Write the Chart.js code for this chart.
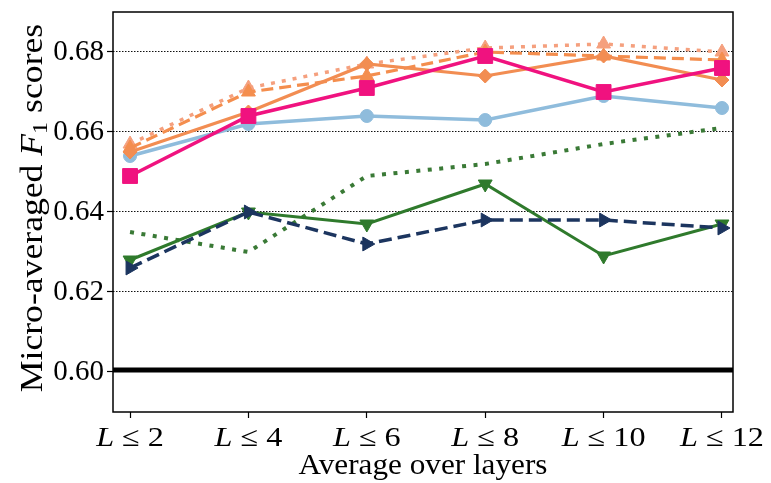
<!DOCTYPE html>
<html>
<head>
<meta charset="utf-8">
<script src="https://cdn.jsdelivr.net/npm/chart.js@4"></script>
<style>
  html, body { margin: 0; padding: 0; background: #fff; }
  canvas { display: block; }
</style>
</head>
<body>
<canvas id="chart" width="771" height="483"></canvas>
<script>
// Layer depths the scores are averaged over (x axis categories)
const layerLimits = [2, 4, 6, 8, 10, 12];
const yTicks = [0.60, 0.62, 0.64, 0.66, 0.68];

// Micro-averaged F1 per configuration
const blueCircles    = [0.654, 0.662, 0.664, 0.663, 0.669, 0.666];
const pinkSquares    = [0.649, 0.664, 0.671, 0.679, 0.670, 0.676];
const orangeDiamonds = [0.655, 0.665, 0.677, 0.674, 0.679, 0.673];
const orangeDashed   = [0.656, 0.670, 0.674, 0.680, 0.679, 0.678];
const orangeDotted   = [0.657, 0.671, 0.677, 0.681, 0.682, 0.680];
const greenSolid     = [0.628, 0.640, 0.637, 0.647, 0.629, 0.637];
const greenDotted    = [0.635, 0.630, 0.649, 0.652, 0.657, 0.661];
const navyDashed     = [0.626, 0.640, 0.632, 0.638, 0.638, 0.636];
const baselineScore  = 0.6005;

const SERIF = '"Liberation Serif", "DejaVu Serif", serif';
const X_MIN = -0.144, X_MAX = 5.093;

const pts = arr => arr.map((v, i) => ({ x: i, y: v }));

function lineSet(values, color, opts) {
  return Object.assign({
    data: pts(values),
    borderColor: color,
    backgroundColor: color,
    pointBackgroundColor: color,
    pointBorderColor: color,
    pointBorderWidth: 1,
    borderWidth: 3,
    tension: 0,
    pointRadius: 6,
    pointStyle: 'circle'
  }, opts);
}

// Datasets listed top-most first (index 0 is painted last)
const datasets = [
  lineSet(pinkSquares, '#f0127f', { pointStyle: 'rect', pointRadius: 10.5, borderWidth: 3.5 }),
  lineSet(navyDashed, '#1c355f', { borderDash: [13, 6], borderWidth: 3.5, pointStyle: 'triangle', rotation: 90, pointRadius: 8 }),
  lineSet(greenSolid, '#2f7a2c', { pointStyle: 'triangle', rotation: 180, pointRadius: 8 }),
  lineSet(orangeDiamonds, '#f28d52', { pointStyle: 'rectRot', pointRadius: 7, borderWidth: 3.2 }),
  lineSet(orangeDashed, '#f48e4e', { borderDash: [12, 6], borderWidth: 3.2, pointStyle: 'triangle', pointRadius: 8 }),
  lineSet(orangeDotted, '#f5a07e', { borderDash: [4, 7], borderWidth: 3.5, pointStyle: 'triangle', pointRadius: 8 }),
  lineSet(blueCircles, '#8fbcdc', { pointStyle: 'circle', pointRadius: 6.5, borderWidth: 3.5 }),
  lineSet(greenDotted, '#3a7a36', { borderDash: [4, 7.5], borderWidth: 4, pointRadius: 0 }),
  {
    data: [{ x: X_MIN, y: baselineScore }, { x: X_MAX, y: baselineScore }],
    borderColor: '#000',
    borderWidth: 5,
    pointRadius: 0
  }
];

// Draw text runs of mixed styles on one baseline, centred on x,
// optionally stretched horizontally by sx
function drawRuns(ctx, runs, x, y, sx) {
  sx = sx || 1;
  let total = 0;
  runs.forEach(r => { ctx.font = r.font; r.w = ctx.measureText(r.text).width; total += r.w; });
  ctx.save();
  ctx.translate(x, y);
  ctx.scale(sx, 1);
  let cx = -total / 2;
  runs.forEach(r => {
    ctx.font = r.font;
    ctx.fillText(r.text, cx, r.dy || 0);
    cx += r.w;
  });
  ctx.restore();
}

const decorations = {
  id: 'decorations',
  beforeDraw(chart) {
    const ctx = chart.ctx;
    ctx.save();
    ctx.fillStyle = '#fff';
    ctx.fillRect(0, 0, chart.width, chart.height);
    ctx.restore();
  },
  afterDraw(chart) {
    const { ctx, chartArea: a, scales: { x } } = chart;
    ctx.save();
    // plot frame
    ctx.strokeStyle = '#000';
    ctx.lineWidth = 1.5;
    ctx.strokeRect(a.left, a.top, a.right - a.left, a.bottom - a.top);

    ctx.fillStyle = '#000';
    ctx.textAlign = 'left';
    ctx.textBaseline = 'alphabetic';

    // x tick labels: italic L, upright relation and number
    layerLimits.forEach((n, i) => {
      const px = x.getPixelForValue(i);
      drawRuns(ctx, [
        { text: 'L', font: 'italic 28px ' + SERIF },
        { text: ' \u2264 ' + n, font: '28px ' + SERIF }
      ], px, 446, 1.15);
    });

    // x axis title
    drawRuns(ctx, [{ text: 'Average over layers', font: '30px ' + SERIF }], (a.left + a.right) / 2, 474, 1.04);

    // y axis title with subscripted F1
    ctx.translate(42, 208);
    ctx.rotate(-Math.PI / 2);
    drawRuns(ctx, [
      { text: 'Micro-averaged ', font: '31px ' + SERIF },
      { text: 'F', font: 'italic 31px ' + SERIF },
      { text: '1', font: '21px ' + SERIF, dy: 5 },
      { text: ' scores', font: '31px ' + SERIF }
    ], 0, 0, 1.15);
    ctx.restore();
  }
};

new Chart(document.getElementById('chart'), {
  type: 'line',
  data: { datasets },
  options: {
    responsive: false,
    animation: false,
    devicePixelRatio: 1,
    layout: { padding: { top: 12, right: 38, left: 0, bottom: 0 } },
    plugins: { legend: { display: false }, tooltip: { enabled: false } },
    elements: { line: { borderCapStyle: 'butt' } },
    scales: {
      x: {
        type: 'linear',
        min: X_MIN,
        max: X_MAX,
        afterBuildTicks: s => { s.ticks = layerLimits.map((_, i) => ({ value: i })); },
        afterFit: s => { s.height = 71; s.paddingLeft = 0; s.paddingRight = 0; },
        ticks: { callback: () => '', font: { size: 1 } },
        grid: { drawOnChartArea: false, drawTicks: true, tickLength: 6, color: '#000', tickWidth: 1.2 },
        border: { display: false }
      },
      y: {
        min: 0.59,
        max: 0.69,
        afterBuildTicks: s => { s.ticks = yTicks.map(v => ({ value: v })); },
        afterFit: s => { s.width = 113; s.paddingTop = 0; s.paddingBottom = 0; },
        ticks: {
          callback: v => v.toFixed(2),
          color: '#000',
          padding: 3,
          font: { family: SERIF, size: 29 }
        },
        grid: { color: '#111', lineWidth: 1, tickLength: 6, tickColor: '#000', tickWidth: 1.2 },
        border: { display: false, dash: [1.5, 1.5] }
      }
    }
  },
  plugins: [decorations]
});
</script>
</body>
</html>
